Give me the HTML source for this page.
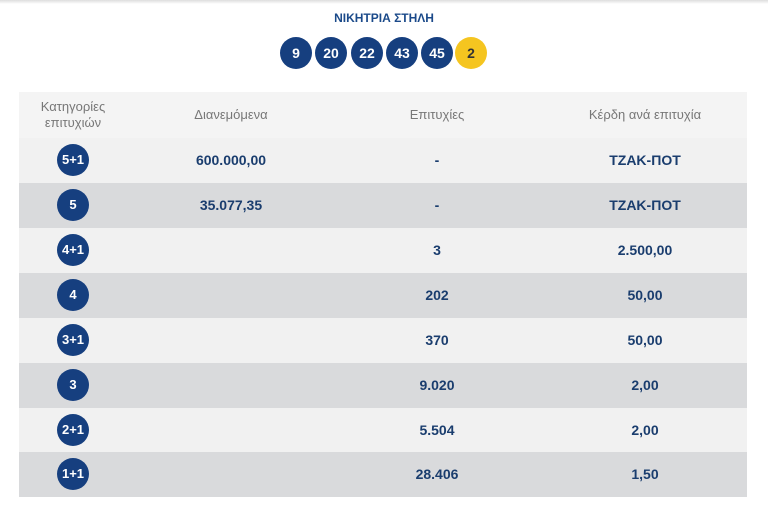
<!DOCTYPE html>
<html><head><meta charset="utf-8"><style>
body{margin:0;width:768px;height:510px;background:#fff;font-family:"Liberation Sans",sans-serif;position:relative;overflow:hidden}
.top{position:absolute;left:0;top:0;width:768px;height:4px;background:linear-gradient(#ddd,#fff)}
.title{position:absolute;top:11px;left:0;width:768px;text-align:center;font-size:12px;font-weight:bold;color:#1b4a8a}
.ball{position:absolute;top:37px;width:32px;height:32px;border-radius:50%;background:#163f7f;color:#fff;font-weight:bold;font-size:14px;line-height:32px;text-align:center}
.ball.y{background:#f5c520;color:#333}
.row{position:absolute;left:19px;width:728px;height:45px}
.c{position:absolute;top:0;height:45px;line-height:45px;text-align:center;font-weight:bold;font-size:14px;color:#1a3d6e}
.cat{position:absolute;left:38px;top:6px;width:32px;height:32px;border-radius:50%;background:#163f7f;color:#fff;font-weight:bold;font-size:13px;line-height:32px;text-align:center}
.h{color:#777;font-weight:normal;font-size:13px}
</style></head><body>
<div class="top"></div>
<div class="title">ΝΙΚΗΤΡΙΑ ΣΤΗΛΗ</div>
<div class="ball" style="left:280px">9</div>
<div class="ball" style="left:315px">20</div>
<div class="ball" style="left:351px">22</div>
<div class="ball" style="left:386px">43</div>
<div class="ball" style="left:421px">45</div>
<div class="ball y" style="left:455px">2</div>
<div class="row" style="top:92px;height:46px;background:#f4f4f4">
<div class="c h" style="left:0;width:108px;line-height:16px;top:7px;height:32px">Κατηγορίες<br>επιτυχιών</div>
<div class="c h" style="left:112px;width:200px">Διανεμόμενα</div>
<div class="c h" style="left:318px;width:200px">Επιτυχίες</div>
<div class="c h" style="left:526px;width:200px">Κέρδη ανά επιτυχία</div>
</div>
<div class="row" style="top:138px;background:#f1f1f1"><div class="cat">5+1</div><div class="c" style="left:112px;width:200px">600.000,00</div><div class="c" style="left:318px;width:200px">-</div><div class="c" style="left:526px;width:200px">ΤΖΑΚ-ΠΟΤ</div></div>
<div class="row" style="top:183px;background:#d9dadc"><div class="cat">5</div><div class="c" style="left:112px;width:200px">35.077,35</div><div class="c" style="left:318px;width:200px">-</div><div class="c" style="left:526px;width:200px">ΤΖΑΚ-ΠΟΤ</div></div>
<div class="row" style="top:228px;background:#f1f1f1"><div class="cat">4+1</div><div class="c" style="left:318px;width:200px">3</div><div class="c" style="left:526px;width:200px">2.500,00</div></div>
<div class="row" style="top:273px;background:#d9dadc"><div class="cat">4</div><div class="c" style="left:318px;width:200px">202</div><div class="c" style="left:526px;width:200px">50,00</div></div>
<div class="row" style="top:318px;background:#f1f1f1"><div class="cat">3+1</div><div class="c" style="left:318px;width:200px">370</div><div class="c" style="left:526px;width:200px">50,00</div></div>
<div class="row" style="top:363px;background:#d9dadc"><div class="cat">3</div><div class="c" style="left:318px;width:200px">9.020</div><div class="c" style="left:526px;width:200px">2,00</div></div>
<div class="row" style="top:408px;background:#f1f1f1"><div class="cat">2+1</div><div class="c" style="left:318px;width:200px">5.504</div><div class="c" style="left:526px;width:200px">2,00</div></div>
<div class="row" style="top:452px;background:#d9dadc"><div class="cat">1+1</div><div class="c" style="left:318px;width:200px">28.406</div><div class="c" style="left:526px;width:200px">1,50</div></div>
</body></html>
